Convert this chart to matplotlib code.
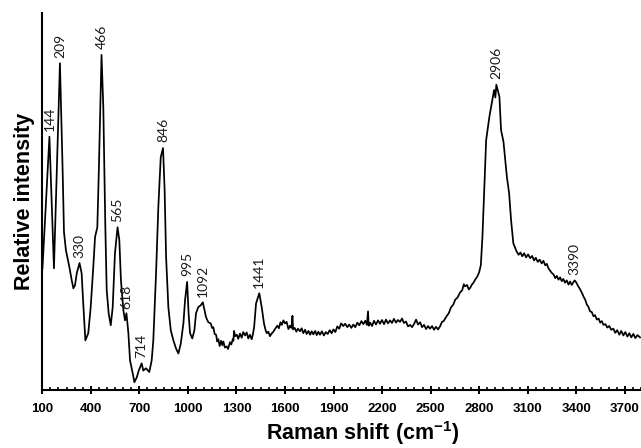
import numpy as np
import matplotlib
matplotlib.use("Agg")
import matplotlib.pyplot as plt
from matplotlib.ticker import MultipleLocator

# Raman spectrum (wavenumber in cm-1, relative intensity 0-100)
wavenumber = [101, 144, 172, 209, 226, 234, 246, 267, 282, 292, 302, 313, 330, 343, 353,
              366, 384, 399, 415, 426, 440, 449, 466, 477, 489, 498, 510, 523, 535, 549,
              565, 576, 586, 601, 611, 620, 632, 642, 659, 669, 684, 696, 714, 724, 741,
              761, 776, 786, 803, 817, 832, 846, 856, 865, 879, 894, 910, 926, 941, 956,
              972, 982, 995, 1004, 1013, 1027, 1040, 1050, 1064, 1079, 1092, 1112, 1126,
              1141, 1149, 1157, 1165, 1174, 1181, 1188, 1196, 1205, 1212, 1219, 1228, 1240,
              1248, 1260, 1268, 1277, 1281, 1285, 1292, 1302, 1311, 1322, 1332, 1342, 1353,
              1363, 1373, 1383, 1394, 1402, 1409, 1421, 1441, 1456, 1470, 1480, 1487, 1497,
              1507, 1517, 1528, 1538, 1553, 1562, 1572, 1580, 1590, 1600, 1610, 1621, 1631,
              1640, 1646, 1650, 1660, 1670, 1680, 1693, 1703, 1713, 1724, 1734, 1745, 1755,
              1765, 1775, 1786, 1796, 1806, 1816, 1828, 1840, 1852, 1864, 1876, 1888, 1899,
              1911, 1923, 1935, 1947, 1960, 1972, 1985, 1997, 2010, 2022, 2034, 2047, 2059,
              2072, 2084, 2096, 2106, 2113, 2117, 2126, 2138, 2150, 2162, 2175, 2187, 2199,
              2212, 2224, 2236, 2249, 2261, 2273, 2286, 2298, 2311, 2323, 2335, 2348, 2360,
              2373, 2385, 2398, 2410, 2422, 2435, 2447, 2459, 2472, 2484, 2496, 2509, 2521,
              2533, 2546, 2558, 2570, 2580, 2600, 2612, 2625, 2640, 2652, 2665, 2682, 2695,
              2705, 2713, 2725, 2736, 2744, 2755, 2765, 2775, 2788, 2800, 2810, 2820, 2832,
              2843, 2863, 2878, 2892, 2900, 2906, 2925, 2935, 2950, 2971, 2985, 2997, 3011,
              3032, 3044, 3055, 3066, 3078, 3090, 3102, 3115, 3127, 3139, 3150, 3162, 3174,
              3186, 3197, 3208, 3218, 3228, 3238, 3248, 3259, 3270, 3280, 3290, 3300, 3310,
              3320, 3330, 3341, 3352, 3362, 3372, 3382, 3390, 3398, 3410, 3424, 3436, 3446,
              3455, 3465, 3475, 3485, 3496, 3506, 3516, 3527, 3538, 3548, 3558, 3568, 3580,
              3592, 3604, 3616, 3629, 3641, 3653, 3666, 3678, 3691, 3703, 3716, 3728, 3740,
              3753, 3765, 3778, 3794]
intensity = [32.2, 67.1, 32.2, 86.6, 57.5, 41.8, 37.0, 32.6, 29.0, 26.9, 27.7, 30.9, 33.6, 30.9, 22.9,
             13.1, 15.0, 21.9, 32.5, 40.5, 43.1, 57.5, 88.8, 75.0, 44.2, 26.4, 20.3, 17.1, 21.9, 36.2,
             43.1, 39.7, 29.0, 21.1, 18.4, 20.3, 15.0, 7.8, 4.3, 2.0, 3.3, 5.1, 7.0, 5.1, 5.7,
             4.7, 7.8, 13.1, 30.9, 48.4, 61.7, 64.1, 53.0, 35.2, 21.9, 15.8, 13.1, 11.0, 9.6, 12.3,
             17.6, 23.7, 28.6, 20.3, 15.0, 13.6, 15.8, 20.3, 21.9, 22.4, 23.2, 19.2, 17.9,
             17.6, 16.4, 16.6, 14.8, 14.6, 12.8, 13.4, 11.6, 13.0, 11.8, 12.8, 11.2, 11.5,
             10.8, 12.6, 12.0, 13.4, 13.0, 15.6, 14.2, 14.6, 13.5, 14.9, 13.8, 15.3, 14.4,
             15.2, 13.6, 14.6, 13.4, 14.8, 16.6, 22.9, 25.6, 21.9, 17.6, 15.8, 15.0, 15.4,
             14.2, 14.9, 15.4, 16.1, 17.0, 16.3, 17.9, 17.2, 18.4, 17.6, 18.0, 16.1, 17.0,
             16.4, 19.6, 16.0, 16.4, 15.4, 16.2, 15.5, 16.3, 15.0, 15.9, 14.8, 15.6, 14.6,
             15.5, 14.7, 15.6, 14.5, 15.4, 14.6, 15.5, 14.4, 15.3, 14.8, 15.8, 15.0, 16.0,
             15.3, 16.8, 16.2, 17.6, 16.9, 17.5, 16.6, 17.3, 16.4, 17.3, 16.6, 17.8, 17.1,
             18.2, 17.4, 18.3, 17.2, 20.8, 17.0, 17.8, 16.9, 18.3, 17.3, 18.4, 17.5, 18.5,
             17.4, 18.6, 17.6, 18.4, 17.7, 18.8, 17.8, 18.5, 18.0, 18.9, 17.7, 18.1, 16.8,
             17.2, 16.6, 17.5, 18.6, 17.3, 17.9, 16.6, 17.2, 16.1, 16.9, 16.2, 16.9, 15.9,
             16.7, 16.0, 16.8, 18.0, 18.2, 19.6, 20.3, 21.8, 22.6, 23.9, 24.4, 25.8, 26.4,
             28.0, 27.4, 27.8, 26.6, 27.0, 27.9, 28.4, 29.2, 30.0, 31.2, 33.0, 40.5, 53.8,
             66.2, 72.4, 76.0, 79.5, 77.5, 80.9, 77.7, 68.9, 65.8, 56.5, 52.1, 45.0, 38.8,
             36.6, 35.8, 36.4, 35.4, 36.2, 35.1, 35.9, 34.9, 35.5, 34.3, 35.0, 33.9, 34.5,
             33.5, 34.2, 33.0, 33.4, 32.2, 31.6, 31.0, 30.6, 29.6, 30.2, 29.2, 29.8, 28.8,
             29.4, 28.4, 29.0, 27.9, 28.7, 27.8, 28.5, 29.0, 28.6, 27.6, 26.6, 25.6, 24.6,
             23.9, 22.6, 22.0, 20.8, 20.6, 19.5, 19.8, 18.6, 18.9, 17.8, 18.2, 17.2, 17.4,
             16.5, 16.9, 15.9, 16.2, 15.1, 15.8, 14.6, 15.6, 14.4, 15.3, 14.1, 15.0, 13.9,
             14.8, 13.7, 14.5, 13.9]

peak_labels = [144, 209, 330, 466, 565, 618, 714, 846, 995, 1092, 1441, 2906, 3390]

x_ticks = list(range(100, 3701, 300))

fig = plt.figure(figsize=(6.41, 4.48), dpi=100)
ax = fig.add_axes([0.066, 0.130, 0.934, 0.8417])

ax.plot(wavenumber, intensity, color="black", lw=1.25)

for p in peak_labels:
    yv = np.interp(p, wavenumber, intensity)
    ax.annotate(str(p), xy=(p, yv), xytext=(0, 4), textcoords="offset points",
                rotation=90, ha="center", va="bottom", fontsize=10,
                family="Lato", color="#1a1a1a")

ax.set_xlim(100, 3800)
ax.set_ylim(0, 100)
ax.set_xticks(x_ticks)
ax.xaxis.set_minor_locator(MultipleLocator(50))
ax.set_yticks([])
for s in ["top", "right"]:
    ax.spines[s].set_visible(False)
for s in ["left", "bottom"]:
    ax.spines[s].set_linewidth(1.5)
ax.tick_params(axis="x", which="major", direction="inout", length=6, width=1.4,
               pad=6.5, labelsize=9.5)
ax.tick_params(axis="x", which="minor", direction="in", length=2, width=1.2)
for lab in ax.get_xticklabels():
    lab.set_fontweight("bold")
    lab.set_family("Liberation Sans")

ax.set_xlabel(r"Raman shift (cm$^{\mathregular{-1}}$)", fontsize=15.5, fontweight="bold",
              family="Liberation Sans")
ax.set_ylabel("Relative intensity", fontsize=15.5, fontweight="bold",
              family="Liberation Sans")
ax.xaxis.set_label_coords(0.535, -0.078)
ax.yaxis.set_label_coords(-0.012, 0.5)

fig.savefig("out.png", dpi=100)
